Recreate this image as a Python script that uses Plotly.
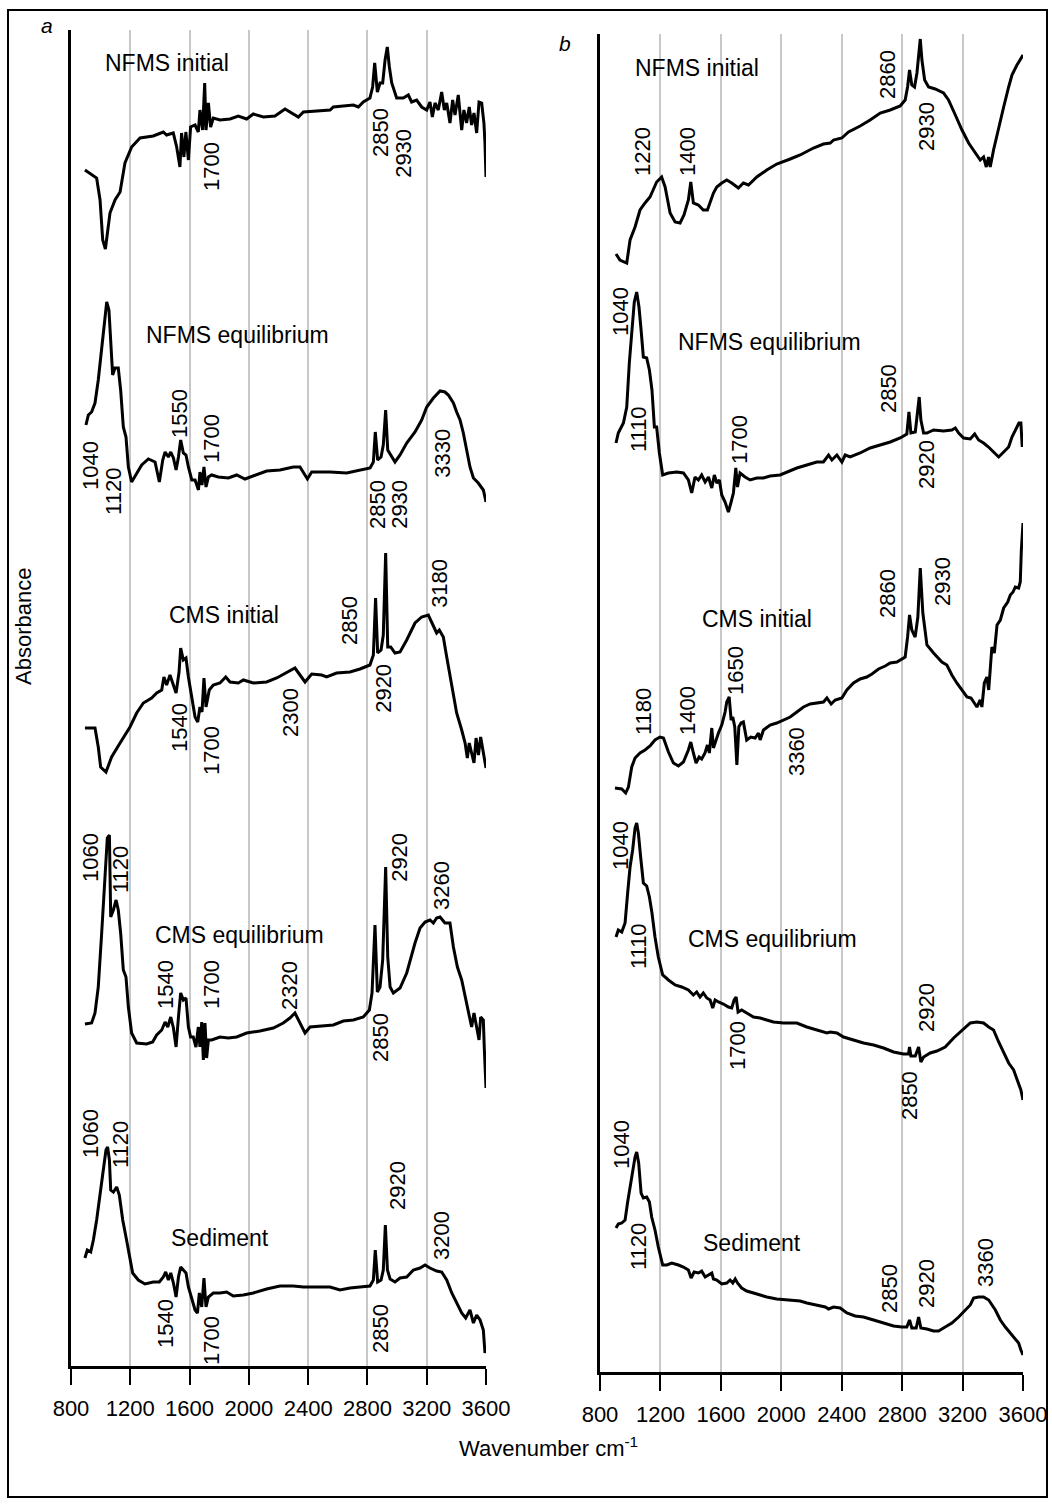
import plotly.graph_objects as go

# ---------------- data (wavenumber cm-1, absorbance in stacked arbitrary units) ----------------
# Panel a
a_nfms_init_wn = [894, 973, 996, 1014, 1032, 1063, 1097, 1131, 1164, 1209, 1266, 1355, 1423, 1445, 1490, 1513, 1535, 1546, 1562, 1575,
                  1592, 1607, 1637, 1659, 1670, 1688, 1702, 1711, 1727, 1742, 1760, 1805, 1873, 1929, 1985, 2030, 2098, 2176, 2244, 2300,
                  2334, 2368, 2480, 2548, 2570, 2637, 2705, 2739, 2772, 2817, 2835, 2849, 2867, 2885, 2903, 2919, 2934, 2948, 2964, 2997,
                  3042, 3076, 3098, 3132, 3166, 3200, 3222, 3238, 3256, 3278, 3301, 3319, 3335, 3357, 3375, 3391, 3413, 3436, 3451, 3469,
                  3487, 3503, 3519, 3537, 3553, 3571, 3586, 3593, 3600]
a_nfms_init_abs = [11.96, 11.88, 11.66, 11.26, 11.17, 11.53, 11.66, 11.74, 12.03, 12.19, 12.28, 12.30, 12.34, 12.31, 12.33, 12.19, 11.99, 12.33, 12.09, 12.34,
                   12.06, 12.39, 12.41, 12.34, 12.56, 12.36, 12.83, 12.36, 12.63, 12.39, 12.48, 12.46, 12.47, 12.50, 12.47, 12.52, 12.49, 12.50, 12.57, 12.52,
                   12.49, 12.54, 12.55, 12.56, 12.59, 12.60, 12.61, 12.59, 12.64, 12.68, 12.79, 13.03, 12.74, 12.83, 12.83, 13.06, 13.19, 12.99, 12.83, 12.68,
                   12.68, 12.71, 12.64, 12.66, 12.59, 12.56, 12.64, 12.49, 12.63, 12.56, 12.74, 12.56, 12.63, 12.43, 12.66, 12.51, 12.71, 12.36, 12.56, 12.43,
                   12.59, 12.41, 12.53, 12.33, 12.64, 12.63, 12.43, 12.23, 11.89]

a_nfms_eq_wn = [901, 917, 939, 962, 984, 1007, 1029, 1041, 1056, 1070, 1081, 1097, 1119, 1135, 1153, 1171, 1187, 1209, 1243, 1277,
                1322, 1367, 1396, 1419, 1435, 1457, 1473, 1491, 1509, 1525, 1540, 1558, 1576, 1592, 1615, 1637, 1660, 1670, 1684, 1697,
                1711, 1727, 1749, 1794, 1862, 1918, 1974, 2042, 2120, 2210, 2300, 2345, 2368, 2395, 2424, 2548, 2660, 2750, 2818, 2840,
                2853, 2869, 2892, 2907, 2923, 2937, 2957, 2986, 3020, 3065, 3121, 3166, 3200, 3245, 3290, 3323, 3346, 3380, 3402, 3425,
                3447, 3470, 3492, 3515, 3548, 3582, 3600]
a_nfms_eq_abs = [9.41, 9.51, 9.54, 9.63, 9.86, 10.19, 10.53, 10.64, 10.56, 10.19, 9.91, 9.98, 9.98, 9.76, 9.39, 9.29, 8.99, 8.84, 8.93, 9.01,
                 9.07, 9.04, 8.84, 9.06, 9.14, 9.09, 9.14, 9.08, 8.96, 9.09, 9.26, 9.13, 9.11, 8.99, 8.86, 8.86, 8.76, 8.94, 8.81, 8.99,
                 8.79, 8.89, 8.91, 8.89, 8.88, 8.91, 8.87, 8.91, 8.95, 8.96, 8.99, 8.99, 8.93, 8.87, 8.94, 8.94, 8.93, 8.96, 8.98, 9.04,
                 9.34, 9.06, 9.09, 9.21, 9.56, 9.16, 9.11, 9.04, 9.11, 9.23, 9.34, 9.46, 9.59, 9.68, 9.75, 9.74, 9.71, 9.63, 9.54, 9.46,
                 9.33, 9.16, 8.99, 8.88, 8.83, 8.76, 8.64]

a_cms_init_wn = [894, 962, 984, 1000, 1036, 1074, 1131, 1198, 1243, 1288, 1344, 1378, 1412, 1427, 1445, 1468, 1486, 1509, 1529, 1540,
                 1558, 1576, 1592, 1615, 1637, 1655, 1670, 1684, 1697, 1711, 1733, 1760, 1805, 1844, 1873, 1929, 1963, 2030, 2120, 2188,
                 2255, 2311, 2345, 2379, 2424, 2491, 2525, 2592, 2682, 2750, 2817, 2840, 2855, 2869, 2892, 2907, 2923, 2937, 2957, 2986,
                 3020, 3065, 3121, 3166, 3211, 3245, 3267, 3285, 3312, 3335, 3369, 3402, 3436, 3459, 3474, 3487, 3503, 3519, 3533, 3549,
                 3564, 3582, 3600]
a_cms_init_abs = [6.38, 6.38, 6.19, 5.99, 5.94, 6.09, 6.23, 6.39, 6.53, 6.63, 6.68, 6.73, 6.76, 6.89, 6.81, 6.91, 6.83, 6.73, 6.94, 7.18,
                  7.06, 7.08, 6.89, 6.66, 6.49, 6.44, 6.59, 6.54, 6.88, 6.59, 6.76, 6.81, 6.83, 6.89, 6.84, 6.83, 6.86, 6.83, 6.84, 6.88,
                  6.93, 6.98, 6.91, 6.84, 6.92, 6.91, 6.89, 6.93, 6.94, 6.97, 7.01, 7.11, 7.68, 7.13, 7.16, 7.31, 8.13, 7.19, 7.19, 7.13,
                  7.14, 7.26, 7.43, 7.49, 7.51, 7.39, 7.33, 7.36, 7.29, 7.09, 6.79, 6.53, 6.36, 6.23, 6.08, 6.23, 6.13, 6.03, 6.28, 6.11,
                  6.29, 6.13, 5.98]

a_cms_eq_wn = [894, 939, 962, 984, 1007, 1029, 1045, 1059, 1068, 1086, 1104, 1119, 1135, 1153, 1171, 1187, 1209, 1243, 1310, 1351,
               1378, 1412, 1435, 1453, 1473, 1491, 1509, 1525, 1540, 1558, 1576, 1592, 1607, 1625, 1643, 1659, 1670, 1682, 1693, 1704,
               1715, 1727, 1749, 1805, 1862, 1918, 1985, 2075, 2165, 2232, 2277, 2311, 2345, 2379, 2413, 2480, 2570, 2637, 2705, 2772,
               2813, 2831, 2851, 2867, 2885, 2903, 2923, 2937, 2953, 2975, 3020, 3065, 3121, 3155, 3189, 3222, 3245, 3267, 3290, 3323,
               3357, 3380, 3407, 3436, 3459, 3481, 3503, 3519, 3537, 3553, 3564, 3582, 3589, 3600]
a_cms_eq_abs = [3.42, 3.43, 3.53, 3.79, 4.33, 4.93, 5.28, 5.31, 4.49, 4.56, 4.66, 4.56, 4.33, 3.96, 3.89, 3.59, 3.33, 3.23, 3.22, 3.24,
                3.31, 3.36, 3.44, 3.39, 3.49, 3.38, 3.19, 3.49, 3.73, 3.66, 3.68, 3.39, 3.29, 3.29, 3.19, 3.39, 3.19, 3.44, 3.06, 3.43,
                3.08, 3.26, 3.26, 3.29, 3.28, 3.29, 3.33, 3.35, 3.38, 3.43, 3.48, 3.53, 3.43, 3.33, 3.39, 3.40, 3.41, 3.45, 3.46, 3.49,
                3.56, 3.73, 4.41, 3.74, 3.79, 4.06, 4.99, 4.09, 3.79, 3.73, 3.78, 3.93, 4.23, 4.38, 4.44, 4.46, 4.43, 4.48, 4.49, 4.43,
                4.43, 4.19, 3.99, 3.86, 3.69, 3.53, 3.39, 3.53, 3.39, 3.26, 3.49, 3.46, 3.16, 2.78]

a_sed_wn = [894, 910, 933, 951, 973, 996, 1018, 1036, 1047, 1059, 1068, 1086, 1108, 1126, 1149, 1171, 1194, 1216, 1254, 1299,
            1355, 1396, 1423, 1439, 1457, 1473, 1491, 1509, 1525, 1540, 1558, 1576, 1592, 1615, 1637, 1653, 1666, 1682, 1697, 1711,
            1727, 1760, 1805, 1850, 1895, 1963, 2030, 2120, 2210, 2300, 2368, 2424, 2480, 2548, 2615, 2682, 2750, 2817, 2840, 2853,
            2869, 2892, 2907, 2921, 2935, 2953, 2986, 3020, 3065, 3110, 3155, 3189, 3222, 3267, 3301, 3335, 3369, 3402, 3436, 3463,
            3492, 3515, 3537, 3560, 3582, 3593, 3600]
a_sed_abs = [1.08, 1.16, 1.14, 1.26, 1.46, 1.69, 1.96, 2.16, 2.19, 2.06, 1.76, 1.74, 1.79, 1.71, 1.46, 1.29, 1.09, 0.93, 0.86, 0.82,
             0.84, 0.84, 0.89, 0.94, 0.86, 0.93, 0.83, 0.69, 0.89, 0.99, 0.96, 0.93, 0.79, 0.66, 0.56, 0.53, 0.73, 0.59, 0.88, 0.59,
             0.69, 0.73, 0.73, 0.74, 0.70, 0.71, 0.73, 0.77, 0.80, 0.80, 0.79, 0.79, 0.79, 0.79, 0.76, 0.78, 0.79, 0.80, 0.86, 1.16,
             0.84, 0.86, 0.96, 1.41, 0.96, 0.87, 0.84, 0.88, 0.89, 0.96, 0.98, 1.01, 0.98, 0.95, 0.94, 0.86, 0.73, 0.63, 0.53, 0.48,
             0.56, 0.43, 0.51, 0.46, 0.36, 0.13, 0.18]

# Panel b
b_nfms_init_wn = [906, 932, 977, 999, 1032, 1065, 1098, 1131, 1175, 1208, 1231, 1264, 1297, 1330, 1356, 1385, 1401, 1418, 1451, 1484,
                  1511, 1533, 1551, 1573, 1606, 1639, 1672, 1716, 1749, 1783, 1838, 1904, 1970, 2059, 2125, 2213, 2279, 2324, 2346, 2401,
                  2445, 2522, 2588, 2655, 2721, 2787, 2820, 2836, 2849, 2864, 2882, 2898, 2913, 2920, 2931, 2949, 2975, 3019, 3074, 3107,
                  3152, 3196, 3240, 3284, 3317, 3339, 3357, 3372, 3383, 3405, 3439, 3472, 3505, 3527, 3560, 3582, 3600]
b_nfms_init_abs = [11.18, 11.12, 11.09, 11.32, 11.45, 11.62, 11.69, 11.75, 11.90, 11.95, 11.85, 11.59, 11.50, 11.49, 11.57, 11.72, 11.90, 11.69, 11.67, 11.62,
                   11.62, 11.72, 11.79, 11.85, 11.89, 11.92, 11.89, 11.84, 11.89, 11.87, 11.95, 12.02, 12.08, 12.13, 12.17, 12.24, 12.28, 12.29, 12.32, 12.34,
                   12.40, 12.46, 12.52, 12.59, 12.62, 12.66, 12.72, 12.85, 13.02, 12.87, 12.85, 12.99, 13.22, 13.33, 13.12, 12.92, 12.85, 12.83, 12.79, 12.72,
                   12.57, 12.42, 12.29, 12.20, 12.12, 12.15, 12.05, 12.15, 12.05, 12.22, 12.45, 12.65, 12.85, 12.97, 13.07, 13.12, 13.17]

b_nfms_eq_wn = [906, 921, 955, 977, 994, 1010, 1027, 1043, 1058, 1072, 1087, 1109, 1127, 1144, 1160, 1175, 1193, 1215, 1253, 1308,
                1352, 1385, 1407, 1429, 1451, 1473, 1496, 1518, 1540, 1557, 1573, 1590, 1606, 1628, 1650, 1668, 1683, 1699, 1710, 1727,
                1760, 1794, 1838, 1882, 1926, 1992, 2036, 2103, 2169, 2235, 2279, 2313, 2335, 2368, 2401, 2423, 2456, 2522, 2588, 2655,
                2721, 2787, 2831, 2845, 2858, 2887, 2902, 2913, 2924, 2942, 2964, 3008, 3074, 3129, 3152, 3174, 3207, 3251, 3280, 3306,
                3339, 3372, 3405, 3439, 3472, 3505, 3527, 3542, 3560, 3573, 3586, 3595, 3600]
b_nfms_eq_abs = [9.29, 9.39, 9.49, 9.65, 10.09, 10.42, 10.70, 10.80, 10.65, 10.42, 10.15, 10.14, 10.02, 9.82, 9.45, 9.45, 9.19, 8.97, 8.99, 9.00,
                 8.99, 8.92, 8.79, 8.95, 8.92, 8.97, 8.90, 8.95, 8.84, 8.97, 8.89, 8.92, 8.77, 8.70, 8.60, 8.70, 8.79, 9.04, 8.85, 8.99,
                 8.95, 8.92, 8.94, 8.94, 8.96, 8.97, 9.00, 9.04, 9.07, 9.10, 9.10, 9.17, 9.12, 9.17, 9.10, 9.17, 9.15, 9.19, 9.24, 9.27,
                 9.30, 9.34, 9.38, 9.60, 9.39, 9.40, 9.59, 9.75, 9.52, 9.39, 9.39, 9.42, 9.41, 9.42, 9.44, 9.39, 9.34, 9.33, 9.38, 9.32,
                 9.29, 9.25, 9.20, 9.15, 9.20, 9.25, 9.35, 9.40, 9.45, 9.49, 9.49, 9.25, 9.39]

b_cms_init_wn = [899, 944, 970, 988, 1010, 1032, 1065, 1098, 1131, 1164, 1197, 1220, 1253, 1286, 1319, 1352, 1385, 1401, 1418, 1436,
                 1456, 1473, 1495, 1511, 1524, 1540, 1551, 1568, 1584, 1606, 1628, 1639, 1655, 1668, 1679, 1692, 1706, 1719, 1734, 1749,
                 1771, 1798, 1827, 1849, 1860, 1882, 1926, 1970, 2014, 2059, 2103, 2147, 2191, 2235, 2279, 2302, 2330, 2357, 2401, 2434,
                 2478, 2522, 2566, 2600, 2644, 2688, 2721, 2765, 2820, 2836, 2849, 2864, 2886, 2904, 2920, 2937, 2964, 3008, 3063, 3096,
                 3129, 3162, 3196, 3229, 3256, 3273, 3295, 3317, 3328, 3344, 3361, 3373, 3383, 3394, 3410, 3428, 3450, 3472, 3499, 3516,
                 3534, 3549, 3571, 3582, 3589, 3596, 3600]
b_cms_init_abs = [5.84, 5.83, 5.79, 5.85, 6.05, 6.14, 6.19, 6.22, 6.26, 6.32, 6.35, 6.34, 6.20, 6.09, 6.06, 6.10, 6.22, 6.30, 6.19, 6.09,
                  6.15, 6.13, 6.19, 6.27, 6.19, 6.44, 6.24, 6.32, 6.39, 6.47, 6.60, 6.70, 6.75, 6.52, 6.55, 6.45, 6.07, 6.45, 6.49, 6.50,
                  6.32, 6.35, 6.34, 6.39, 6.32, 6.42, 6.47, 6.49, 6.52, 6.55, 6.60, 6.65, 6.68, 6.69, 6.70, 6.74, 6.68, 6.72, 6.74, 6.82,
                  6.89, 6.93, 6.95, 6.98, 7.03, 7.06, 7.09, 7.10, 7.15, 7.35, 7.57, 7.42, 7.35, 7.55, 8.04, 7.59, 7.27, 7.19, 7.10, 7.07,
                  6.97, 6.89, 6.82, 6.75, 6.74, 6.70, 6.65, 6.72, 6.65, 6.89, 6.95, 6.82, 7.05, 7.25, 7.19, 7.47, 7.52, 7.64, 7.70, 7.77,
                  7.80, 7.85, 7.84, 7.90, 8.22, 8.39, 8.49]

b_cms_eq_wn = [906, 921, 944, 966, 983, 999, 1016, 1032, 1043, 1054, 1069, 1087, 1109, 1127, 1144, 1164, 1186, 1215, 1253, 1297,
               1341, 1385, 1418, 1440, 1462, 1484, 1507, 1529, 1546, 1562, 1584, 1617, 1650, 1672, 1688, 1701, 1714, 1738, 1771, 1816,
               1860, 1904, 1948, 2014, 2103, 2169, 2235, 2302, 2324, 2368, 2412, 2478, 2544, 2611, 2677, 2743, 2809, 2842, 2849, 2858,
               2887, 2909, 2924, 2942, 2986, 3030, 3085, 3141, 3196, 3251, 3295, 3339, 3373, 3405, 3439, 3472, 3505, 3538, 3564, 3586,
               3600]
b_cms_eq_abs = [4.35, 4.42, 4.40, 4.49, 4.79, 5.05, 5.22, 5.44, 5.49, 5.39, 5.15, 4.89, 4.86, 4.75, 4.59, 4.35, 4.15, 3.97, 3.92, 3.87,
                3.85, 3.82, 3.77, 3.80, 3.75, 3.79, 3.74, 3.72, 3.64, 3.72, 3.70, 3.68, 3.65, 3.64, 3.72, 3.75, 3.60, 3.62, 3.59, 3.55,
                3.54, 3.52, 3.50, 3.49, 3.49, 3.45, 3.42, 3.39, 3.40, 3.39, 3.35, 3.32, 3.29, 3.27, 3.24, 3.20, 3.18, 3.18, 3.25, 3.16,
                3.16, 3.25, 3.10, 3.15, 3.19, 3.21, 3.25, 3.34, 3.42, 3.49, 3.50, 3.49, 3.45, 3.42, 3.30, 3.19, 3.09, 3.02, 2.92, 2.82,
                2.72]

b_sed_wn = [906, 921, 944, 966, 983, 999, 1016, 1032, 1043, 1056, 1072, 1087, 1109, 1127, 1142, 1164, 1186, 1215, 1242, 1275,
            1319, 1352, 1385, 1403, 1423, 1451, 1473, 1496, 1518, 1540, 1551, 1573, 1606, 1639, 1661, 1679, 1695, 1710, 1738, 1771,
            1816, 1860, 1904, 1970, 2059, 2125, 2169, 2235, 2291, 2313, 2346, 2390, 2434, 2489, 2544, 2611, 2677, 2743, 2798, 2831,
            2849, 2864, 2893, 2909, 2924, 2964, 3008, 3041, 3085, 3129, 3174, 3218, 3251, 3273, 3306, 3339, 3373, 3417, 3450, 3483,
            3516, 3549, 3571, 3586, 3600]
b_sed_abs = [1.44, 1.48, 1.49, 1.52, 1.70, 1.85, 1.97, 2.15, 2.20, 2.09, 1.79, 1.74, 1.75, 1.70, 1.55, 1.42, 1.25, 1.07, 1.07, 1.09,
             1.07, 1.05, 1.02, 0.94, 1.00, 0.99, 1.01, 0.95, 0.97, 0.99, 0.93, 0.92, 0.88, 0.89, 0.92, 0.89, 0.93, 0.89, 0.84, 0.81,
             0.79, 0.77, 0.75, 0.73, 0.72, 0.71, 0.69, 0.67, 0.65, 0.63, 0.65, 0.64, 0.59, 0.56, 0.55, 0.52, 0.49, 0.46, 0.45, 0.45,
             0.52, 0.44, 0.44, 0.55, 0.44, 0.43, 0.41, 0.41, 0.45, 0.49, 0.55, 0.62, 0.67, 0.74, 0.75, 0.75, 0.72, 0.62, 0.52, 0.45,
             0.39, 0.32, 0.29, 0.22, 0.17]

tick_vals = [800, 1200, 1600, 2000, 2400, 2800, 3200, 3600]
tick_text = ["800", "1200", "1600", "2000", "2400", "2800", "3200", "3600"]

# Series names (text, wavenumber, absorbance) per panel
names_a = [("NFMS initial", 1448, 13.03), ("NFMS equilibrium", 1926, 10.31), ("CMS initial", 1832, 7.51),
           ("CMS equilibrium", 1940, 4.31), ("Sediment", 1805, 1.28)]
names_b = [("NFMS initial", 1442, 13.04), ("NFMS equilibrium", 1925, 10.30), ("CMS initial", 1839, 7.53),
           ("CMS equilibrium", 1945, 4.33), ("Sediment", 1806, 1.29)]

# Peak labels (text, wavenumber, absorbance) per panel
peaks_a = [("1700", 1744, 12.00), ("2850", 2884, 12.34), ("2930", 3039, 12.13),
           ("1040", 928, 9.01), ("1120", 1083, 8.75), ("1550", 1528, 9.53), ("1700", 1744, 9.28),
           ("2850", 2864, 8.62), ("2930", 3012, 8.62), ("3330", 3302, 9.13),
           ("1540", 1528, 6.39), ("1700", 1744, 6.16), ("2300", 2277, 6.54), ("2850", 2675, 7.46),
           ("2920", 2904, 6.78), ("3180", 3282, 7.83),
           ("1060", 928, 5.09), ("1120", 1131, 4.96), ("1540", 1434, 3.82), ("1700", 1744, 3.82),
           ("2320", 2270, 3.81), ("2850", 2884, 3.29), ("2920", 3012, 5.09), ("3260", 3296, 4.81),
           ("1060", 928, 2.33), ("1120", 1131, 2.21), ("1540", 1434, 0.43), ("1700", 1744, 0.26),
           ("2850", 2884, 0.38), ("2920", 2999, 1.81), ("3200", 3296, 1.31)]
peaks_b = [("1220", 1078, 12.20), ("1400", 1376, 12.20), ("2860", 2700, 12.97), ("2930", 2958, 12.45),
           ("1040", 932, 10.61), ("1110", 1052, 9.43), ("1700", 1720, 9.33), ("2850", 2707, 9.83), ("2920", 2958, 9.07),
           ("1180", 1085, 6.60), ("1400", 1376, 6.61), ("1650", 1694, 7.01), ("3360", 2098, 6.20),
           ("2860", 2700, 7.78), ("2930", 3064, 7.90),
           ("1040", 932, 5.27), ("1110", 1052, 4.26), ("1700", 1707, 3.26), ("2850", 2846, 2.76), ("2920", 2958, 3.64),
           ("1040", 939, 2.27), ("1120", 1052, 1.25), ("2850", 2713, 0.83), ("2920", 2958, 0.88), ("3360", 3349, 1.09)]

# ---------------- figure ----------------
W, H = 1052, 1504
FONT = "Liberation Sans, Arial, sans-serif"
LINE = dict(color="black", width=3)

fig = go.Figure()
series_a = [(a_nfms_init_wn, a_nfms_init_abs), (a_nfms_eq_wn, a_nfms_eq_abs), (a_cms_init_wn, a_cms_init_abs),
            (a_cms_eq_wn, a_cms_eq_abs), (a_sed_wn, a_sed_abs)]
series_b = [(b_nfms_init_wn, b_nfms_init_abs), (b_nfms_eq_wn, b_nfms_eq_abs), (b_cms_init_wn, b_cms_init_abs),
            (b_cms_eq_wn, b_cms_eq_abs), (b_sed_wn, b_sed_abs)]
for xs, ys in series_a:
    fig.add_trace(go.Scatter(x=xs, y=ys, mode="lines", line=LINE, xaxis="x", yaxis="y", showlegend=False))
for xs, ys in series_b:
    fig.add_trace(go.Scatter(x=xs, y=ys, mode="lines", line=LINE, xaxis="x2", yaxis="y2", showlegend=False))


def px_x(p):
    return p / W


def px_y(p):
    return 1 - p / H


xax = dict(range=[800, 3600], tickvals=tick_vals, ticktext=tick_text, showgrid=True, gridcolor="#c8c8c8",
           gridwidth=1.5, showline=True, linecolor="black", linewidth=3, ticks="outside", ticklen=16,
           tickwidth=2, tickcolor="black", tickfont=dict(family=FONT, size=22, color="black"),
           zeroline=False, ticklabelstandoff=5, automargin=False)
yax = dict(showgrid=False, showline=True, linecolor="black", linewidth=3, showticklabels=False,
           ticks="", zeroline=False, automargin=False)

fig.update_layout(
    width=W, height=H, margin=dict(l=0, r=0, t=0, b=0, autoexpand=False),
    paper_bgcolor="white", plot_bgcolor="white",
    xaxis=dict(xax, domain=[px_x(71), px_x(486)], anchor="y"),
    yaxis=dict(yax, domain=[px_y(1366), px_y(30)], range=[0, 13.36], anchor="x"),
    xaxis2=dict(xax, domain=[px_x(600), px_x(1023)], anchor="y2"),
    yaxis2=dict(yax, domain=[px_y(1372), px_y(34)], range=[0, 13.38], anchor="x2"),
)

ann = []
for txt, x, y in names_a:
    ann.append(dict(text=txt, x=x, y=y, xref="x", yref="y", showarrow=False,
                    xanchor="center", yanchor="middle", font=dict(family=FONT, size=23, color="black")))
for txt, x, y in names_b:
    ann.append(dict(text=txt, x=x, y=y, xref="x2", yref="y2", showarrow=False,
                    xanchor="center", yanchor="middle", font=dict(family=FONT, size=23, color="black")))
for txt, x, y in peaks_a:
    ann.append(dict(text=txt, x=x, y=y, xref="x", yref="y", showarrow=False, textangle=-90,
                    xanchor="center", yanchor="middle", font=dict(family=FONT, size=22, color="black")))
for txt, x, y in peaks_b:
    ann.append(dict(text=txt, x=x, y=y, xref="x2", yref="y2", showarrow=False, textangle=-90,
                    xanchor="center", yanchor="middle", font=dict(family=FONT, size=22, color="black")))

ann.append(dict(text="<i>a</i>", x=px_x(47), y=px_y(26), xref="paper", yref="paper", showarrow=False,
                xanchor="center", yanchor="middle", font=dict(family=FONT, size=21, color="black")))
ann.append(dict(text="<i>b</i>", x=px_x(565), y=px_y(43), xref="paper", yref="paper", showarrow=False,
                xanchor="center", yanchor="middle", font=dict(family=FONT, size=21, color="black")))
ann.append(dict(text="Absorbance", x=px_x(23), y=px_y(627), xref="paper", yref="paper", showarrow=False,
                xanchor="center", yanchor="middle", textangle=-90,
                font=dict(family=FONT, size=22, color="black")))
ann.append(dict(text="Wavenumber cm<sup>-1</sup>", x=px_x(548), y=px_y(1447), xref="paper", yref="paper",
                xanchor="center", yanchor="middle", showarrow=False,
                font=dict(family=FONT, size=22, color="black")))
fig.update_layout(annotations=ann)

fig.add_shape(type="rect", xref="paper", yref="paper", x0=px_x(8), x1=px_x(1047), y0=px_y(1497), y1=px_y(10),
              line=dict(color="black", width=2), fillcolor="rgba(0,0,0,0)", layer="above")

fig.write_html("out.html")
